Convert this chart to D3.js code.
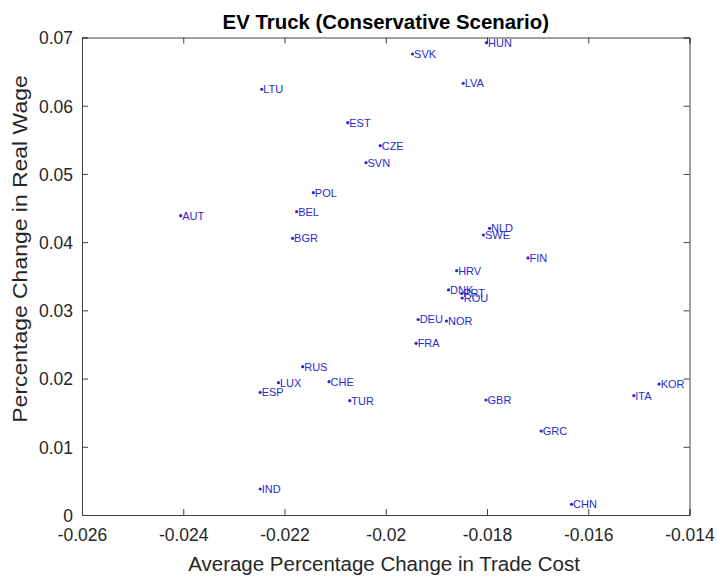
<!DOCTYPE html>
<html>
<head>
<meta charset="utf-8">
<script src="https://cdn.jsdelivr.net/npm/d3@7"></script>
<style>
  body { margin: 0; background: #fff; }
  text { font-family: "Liberation Sans", Arial, Helvetica, sans-serif; }
</style>
</head>
<body>
<svg id="chart"></svg>
<script>
// country codes and their values
var countries = ["HUN","SVK","LVA","LTU","EST","CZE","SVN","POL","BEL","AUT","BGR","NLD","SWE","FIN","HRV",
                 "DNK","PRT","ROU","DEU","NOR","FRA","RUS","LUX","CHE","ESP","TUR","GBR","GRC","KOR","ITA","CHN","IND"];
var tradeCost = [-0.01801,-0.01947,-0.01847,-0.02245,-0.02075,-0.02011,-0.02039,-0.02143,-0.02176,-0.02405,-0.02184,-0.01795,-0.01807,-0.01719,-0.01860,
                 -0.01876,-0.01850,-0.01849,-0.01936,-0.01880,-0.01940,-0.02164,-0.02212,-0.02112,-0.02248,-0.02071,-0.01802,-0.01693,-0.01460,-0.01510,-0.01633,-0.02248];
var realWage = [0.06924,0.06758,0.06329,0.06241,0.05751,0.05414,0.05165,0.04725,0.04446,0.04388,0.04056,0.04203,0.04105,0.03768,0.03581,
                0.03299,0.03247,0.03181,0.02866,0.02844,0.02517,0.02174,0.01940,0.01954,0.01799,0.01676,0.01686,0.01231,0.01920,0.01749,0.00157,0.00381];

var xTicks = [-0.026,-0.024,-0.022,-0.02,-0.018,-0.016,-0.014];
var yTicks = [0,0.01,0.02,0.03,0.04,0.05,0.06,0.07];

var settings = { width: 717, height: 576 };
var margin = { top: 37.5, right: 27.5, bottom: 61, left: 82 };
var pw = settings.width - margin.left - margin.right;
var ph = settings.height - margin.top - margin.bottom;

var svg = d3.select("#chart")
    .attr("width", settings.width)
    .attr("height", settings.height);

var x = d3.scaleLinear().domain([-0.026, -0.014]).range([0, pw]);
var y = d3.scaleLinear().domain([0, 0.07]).range([ph, 0]);

var g = svg.append("g").attr("transform", "translate(" + margin.left + "," + margin.top + ")");

var axisColor = "#404040";
var fmt = function (d) { return d === 0 ? "0" : String(d); };

// bottom / left axes with inward ticks
var xAxis = g.append("g").attr("transform", "translate(0," + ph + ")")
    .call(d3.axisBottom(x).tickValues(xTicks).tickSize(-6).tickPadding(14).tickFormat(fmt));
var yAxis = g.append("g")
    .call(d3.axisLeft(y).tickValues(yTicks).tickSize(-6).tickPadding(9).tickFormat(fmt));
// top / right axes (box)
var xTop = g.append("g")
    .call(d3.axisTop(x).tickValues(xTicks).tickSize(-6).tickFormat(""));
var yRight = g.append("g").attr("transform", "translate(" + pw + ",0)")
    .call(d3.axisRight(y).tickValues(yTicks).tickSize(-6).tickFormat(""));

[xAxis, yAxis, xTop, yRight].forEach(function (a) {
    a.selectAll("path.domain").attr("stroke", axisColor);
    a.selectAll(".tick line").attr("stroke", axisColor);
    a.selectAll(".tick text")
        .attr("fill", "#262626")
        .style("font-size", "17.5px")
        .style("font-family", "'Liberation Sans', Arial, sans-serif");
});
yAxis.selectAll(".tick text").attr("dy", "0.36em");
xAxis.selectAll(".tick text").attr("dy", "0.71em");

// points and labels
var blue = "#2a2acc";
var pts = g.append("g").selectAll("g.pt")
    .data(countries.map(function (c, i) { return { name: c, x: tradeCost[i], y: realWage[i] }; }))
    .enter()
    .append("g")
    .attr("transform", function (d) { return "translate(" + x(d.x) + "," + y(d.y) + ")"; });

pts.append("circle")
    .attr("r", 1.6)
    .attr("fill", blue);

pts.append("text")
    .attr("x", 1.5)
    .attr("dy", "0.36em")
    .attr("fill", blue)
    .style("font-size", "11px")
    .text(function (d) { return d.name; });

// title and axis labels
svg.append("text")
    .attr("x", margin.left + pw / 2)
    .attr("y", 29)
    .attr("text-anchor", "middle")
    .attr("fill", "#000")
    .style("font-size", "20.4px")
    .style("font-weight", "bold")
    .text("EV Truck (Conservative Scenario)");

svg.append("text")
    .attr("x", 384)
    .attr("y", 571)
    .attr("text-anchor", "middle")
    .attr("fill", "#262626")
    .style("font-size", "20.5px")
    .text("Average Percentage Change in Trade Cost");

svg.append("text")
    .attr("transform", "translate(27,249) rotate(-90) scale(1.12,1)")
    .attr("text-anchor", "middle")
    .attr("fill", "#262626")
    .style("font-size", "20.5px")
    .text("Percentage Change in Real Wage");
</script>
</body>
</html>
